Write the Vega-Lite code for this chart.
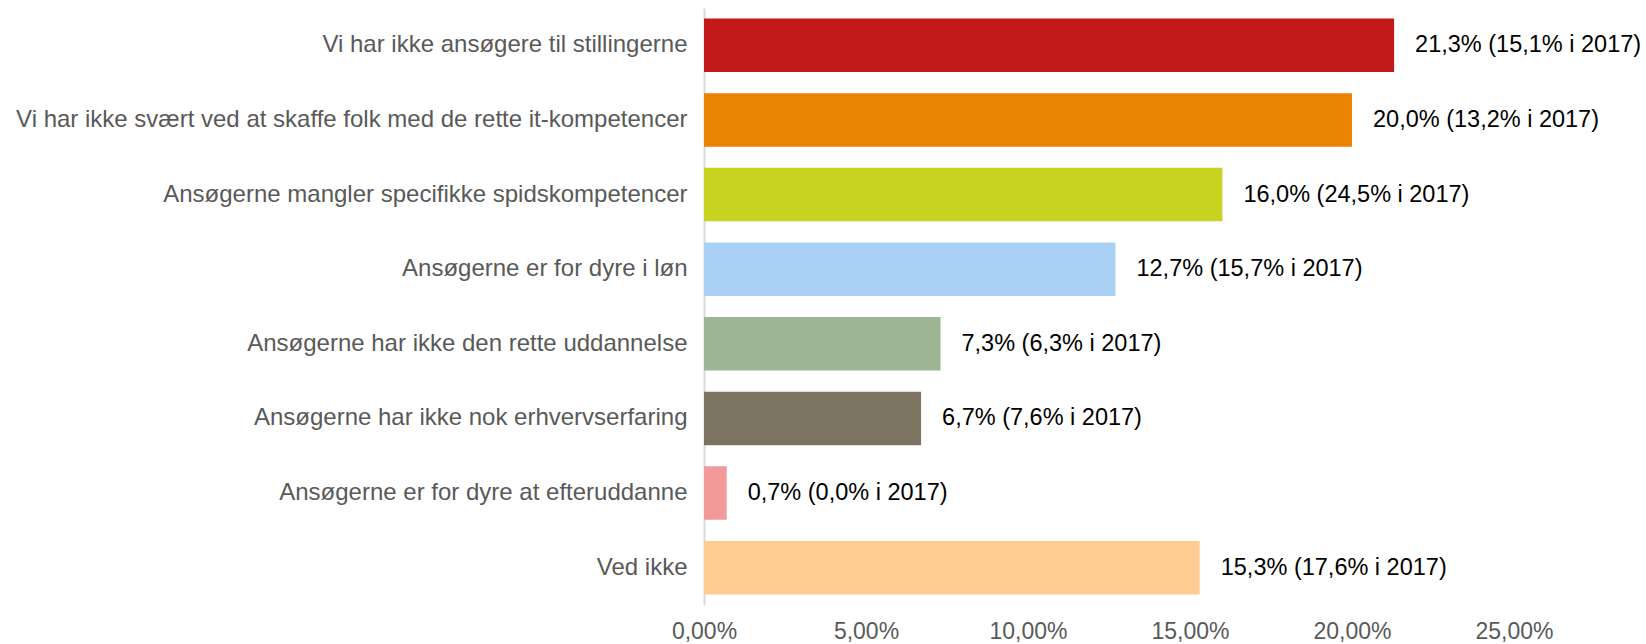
{
  "$schema": "https://vega.github.io/schema/vega-lite/v6.json",
  "autosize": {"type": "none"},
  "width": 810,
  "height": 597,
  "padding": {"left": 704, "top": 8, "right": 132, "bottom": 39},
  "background": "white",
  "config": {"view": {"stroke": null}, "font": "Liberation Sans"},
  "data": {"values": [
    {"category": "Vi har ikke ansøgere til stillingerne", "value": 0.213, "label": "21,3% (15,1% i 2017)", "color": "#C21A1B"},
    {"category": "Vi har ikke svært ved at skaffe folk med de rette it-kompetencer", "value": 0.200, "label": "20,0% (13,2% i 2017)", "color": "#E98300"},
    {"category": "Ansøgerne mangler specifikke spidskompetencer", "value": 0.160, "label": "16,0% (24,5% i 2017)", "color": "#C8D321"},
    {"category": "Ansøgerne er for dyre i løn", "value": 0.127, "label": "12,7% (15,7% i 2017)", "color": "#AAD1F4"},
    {"category": "Ansøgerne har ikke den rette uddannelse", "value": 0.073, "label": "7,3% (6,3% i 2017)", "color": "#9EB594"},
    {"category": "Ansøgerne har ikke nok erhvervserfaring", "value": 0.067, "label": "6,7% (7,6% i 2017)", "color": "#7C7460"},
    {"category": "Ansøgerne er for dyre at efteruddanne", "value": 0.007, "label": "0,7% (0,0% i 2017)", "color": "#F29999"},
    {"category": "Ved ikke", "value": 0.153, "label": "15,3% (17,6% i 2017)", "color": "#FECC91"}
  ]},
  "encoding": {
    "y": {
      "field": "category", "type": "nominal", "sort": null,
      "scale": {"paddingInner": 0.284, "paddingOuter": 0.142},
      "axis": {
        "title": null, "ticks": false, "domain": true, "domainColor": "#D9D9D9", "domainWidth": 2,
        "labelFontSize": 24, "labelColor": "#595959", "labelPadding": 17, "labelLimit": 720,
        "labelFont": "Liberation Sans", "grid": false
      }
    },
    "x": {
      "field": "value", "type": "quantitative",
      "scale": {"domain": [0, 0.25], "nice": false},
      "axis": {
        "title": null, "ticks": false, "domain": false, "grid": false,
        "values": [0, 0.05, 0.1, 0.15, 0.2, 0.25],
        "labelExpr": "replace(format(datum.value, '.2%'), '.', ',')",
        "labelFontSize": 23, "labelColor": "#595959", "labelPadding": 15,
        "labelFont": "Liberation Sans", "labelFlush": false, "labelOverlap": false
      }
    }
  },
  "layer": [
    {
      "mark": {"type": "bar"},
      "encoding": {"color": {"field": "color", "type": "nominal", "scale": null}}
    },
    {
      "mark": {"type": "text", "align": "left", "baseline": "middle", "dx": 21, "fontSize": 23.5, "color": "#000000", "font": "Liberation Sans"},
      "encoding": {"text": {"field": "label"}}
    }
  ]
}
